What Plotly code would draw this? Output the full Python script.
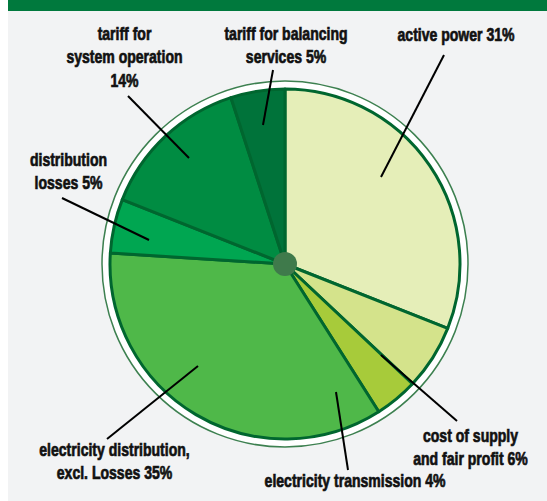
import plotly.graph_objects as go

# Slice data, clockwise from 12 o'clock
labels = [
    "active power",
    "cost of supply<br>and fair profit",
    "electricity transmission",
    "electricity distribution,<br>excl. Losses",
    "distribution<br>losses",
    "tariff for<br>system operation",
    "tariff for balancing<br>services",
]
values = [31, 6, 4, 35, 5, 14, 5]
colors = ["#e5eeb8", "#d4e38b", "#a7cb3a", "#4fb849", "#00a651", "#008c42", "#00733a"]

# Label layout (pixels from top-left): text centre, leader start, leader end
value_sep = [" ", " ", " ", " ", " ", "<br>", " "]
label_pos = [(456, 35), (470, 447), (355, 481), (114, 461), (68, 171), (124, 58), (286, 46)]
leaders = [
    ((444, 55), (381, 177)),
    ((457, 421), (381, 355)),
    ((348, 470), (336, 392)),
    ((107, 439), (198, 366)),
    ((62, 198), (149, 240)),
    ((128, 96), (189, 158)),
    ((273, 70), (263, 125)),
]

W, H = 547, 501
CX, CY, R = 285, 264, 175
RING_R = 183

FONT = "Liberation Sans, Arial, sans-serif"
FONT_SIZE = 18
NARROW = 0.78  # horizontal squeeze for a narrow bold face


def px(x):
    return x / W


def py(y):
    return 1 - y / H


fig = go.Figure()
fig.add_trace(go.Pie(
    labels=[l.replace("<br>", " ") for l in labels],
    values=values,
    sort=False,
    direction="clockwise",
    rotation=0,
    marker=dict(colors=colors, line=dict(color="#00662f", width=3)),
    textinfo="none",
    hoverinfo="label+percent",
    showlegend=False,
    domain=dict(x=[px(CX - R), px(CX + R)], y=[py(CY + R), py(CY - R)]),
))

shapes = [
    dict(type="rect", xref="paper", yref="paper", x0=0, x1=px(8), y0=0, y1=1,
         fillcolor="white", line=dict(width=0), layer="below"),
    dict(type="rect", xref="paper", yref="paper", x0=px(8), x1=1, y0=py(11), y1=1,
         fillcolor="#00793d", line=dict(width=0), layer="below"),
    dict(type="circle", xref="paper", yref="paper",
         x0=px(CX - RING_R), x1=px(CX + RING_R), y0=py(CY + RING_R), y1=py(CY - RING_R),
         fillcolor="white", line=dict(color="#3d8050", width=1.5), layer="below"),
    dict(type="circle", xref="paper", yref="paper",
         x0=px(CX - 12), x1=px(CX + 12), y0=py(CY + 12), y1=py(CY - 12),
         fillcolor="#3f7a4b", line=dict(width=0), layer="above"),
]
for (x0, y0), (x1, y1) in leaders:
    shapes.append(dict(type="line", xref="paper", yref="paper",
                       x0=px(x0), y0=py(y0), x1=px(x1), y1=py(y1),
                       line=dict(color="black", width=2), layer="above"))

annotations = []
for lab, v, sep, (tx, ty) in zip(labels, values, value_sep, label_pos):
    annotations.append(dict(
        text=f"{lab}{sep}{v}%", x=px(tx), y=py(ty), xref="paper", yref="paper",
        xanchor="center", yanchor="middle", showarrow=False, align="center",
        font=dict(family=FONT, size=FONT_SIZE, color="#111111", weight="bold"),
    ))

fig.update_layout(
    width=W, height=H,
    margin=dict(l=0, r=0, t=0, b=0),
    paper_bgcolor="#f2f3f4",
    plot_bgcolor="#f2f3f4",
    shapes=shapes,
    annotations=annotations,
)

# Narrow and thicken the label glyphs around their own centres after each redraw
squeeze_js = """
var gd = document.getElementById('{plot_id}');
function squeeze() {
  gd.querySelectorAll('.annotation-text').forEach(function (t) {
    t.style.transformBox = 'fill-box';
    t.style.transformOrigin = 'center';
    t.style.transform = 'scaleX(%s)';
    t.style.stroke = '#111111';
    t.style.strokeWidth = '0.7px';
  });
}
squeeze();
gd.on('plotly_afterplot', squeeze);
""" % NARROW

fig.write_html("out.html", post_script=squeeze_js)
